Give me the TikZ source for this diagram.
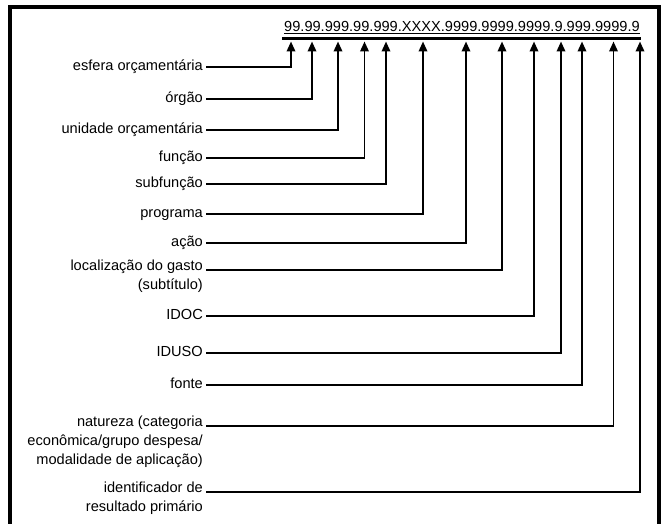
\documentclass[tikz,border=0pt]{standalone}
\usepackage{fontspec}
\setmainfont{Liberation Sans}
\usetikzlibrary{arrows.meta}
\newcommand\labfont{\fontsize{14.6}{18.8}\selectfont}
\begin{document}
\begin{tikzpicture}[x=1pt,y=-1pt,
  lab/.style={anchor=north east,inner sep=0pt,align=right,font=\labfont,execute at begin node=\strut},
  conn/.style={line width=1.9pt,-{Triangle[length=10pt,width=8.5pt]}},
  frame/.style={line width=4pt}]
\useasboundingbox (0,0) rectangle (664,524);
\draw[frame] (10,524) -- (10,7) -- (659,7) -- (659,524);
% code
\node[font=\labfont,anchor=base,inner sep=0pt] (code) at (462,32)
  {\underline{99.99.999.99.999.XXXX.9999.9999.9999.9.999.9999.9}};
\draw[line width=3pt] (282,39) -- (641,39);
% arrow targets
\coordinate (t1) at (291,41.5);
\coordinate (t2) at (312,41.5);
\coordinate (t3) at (338,41.5);
\coordinate (t4) at (364.5,41.5);
\coordinate (t5) at (386,41.5);
\coordinate (t6) at (423,41.5);
\coordinate (t7) at (466,41.5);
\coordinate (t8) at (502,41.5);
\coordinate (t9) at (534,41.5);
\coordinate (t10) at (561,41.5);
\coordinate (t11) at (582,41.5);
\coordinate (t12) at (613.5,41.5);
\coordinate (t13) at (640,41.5);
% labels
\node[lab] (l1) at (203,57) {esfera orçamentária};
\node[lab] (l2) at (203,89) {órgão};
\node[lab] (l3) at (203,120) {unidade orçamentária};
\node[lab] (l4) at (203,148) {função};
\node[lab] (l5) at (203,174) {subfunção};
\node[lab] (l6) at (203,204) {programa};
\node[lab] (l7) at (203,233) {ação};
\node[lab] (l8) at (203,260) {localização do gasto\\(subtítulo)};
\node[lab] (l9) at (203,306) {IDOC};
\node[lab] (l10) at (203,343) {IDUSO};
\node[lab] (l11) at (203,375) {fonte};
\node[lab] (l12) at (203,416) {natureza (categoria\\econômica/grupo despesa/\\modalidade de aplicação)};
\node[lab] (l13) at (203,482) {identificador de\\resultado primário};
% connectors
\foreach \i in {1,...,13}{
  \draw[conn] ([shift={(3pt,-10pt)}]l\i.north east) -| (t\i);
}
\end{tikzpicture}
\end{document}
